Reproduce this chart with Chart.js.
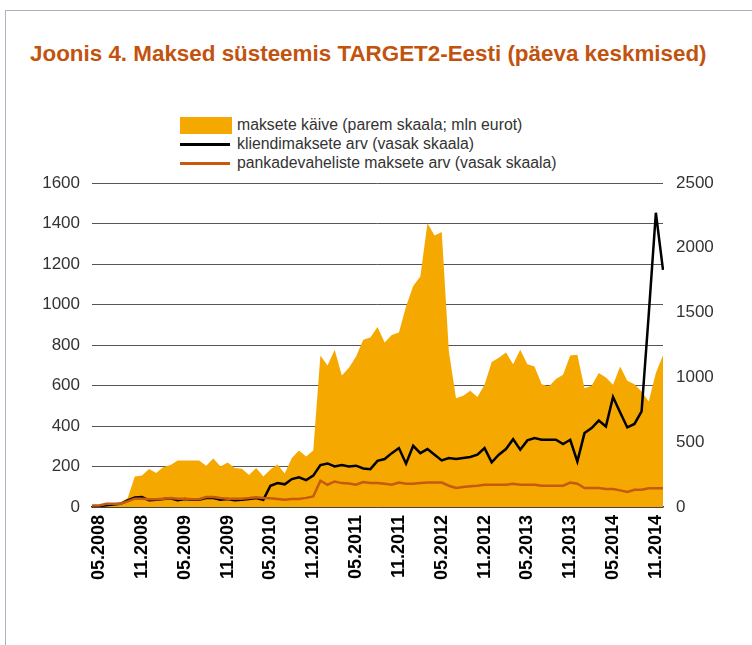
<!DOCTYPE html>
<html lang="et">
<head>
    <meta charset="UTF-8">
    <title>Joonis 4. Maksed süsteemis TARGET2-Eesti</title>
    <script src="https://cdn.jsdelivr.net/npm/chart.js@4"></script>
    <style>
        html, body { margin: 0; padding: 0; background: #fff; }
        body { width: 752px; height: 645px; position: relative; overflow: hidden;
               font-family: "Liberation Sans", Arial, sans-serif; }
        .frame { position: absolute; left: 5px; top: 10px; width: 760px; height: 700px;
                 border-top: 1px solid #aab4c0; border-left: 1px solid #aab4c0; }
        h2 { position: absolute; left: 30px; top: 41px; margin: 0; font-size: 22.4px;
             font-weight: bold; color: #c2530f; white-space: nowrap; }
        .legend { position: absolute; left: 180px; top: 115px; font-size: 15.8px; color: #333; }
        .legend div { position: relative; height: 19px; line-height: 19px; padding-left: 57px; white-space: nowrap; }
        .legend span { position: absolute; left: 0; }
        .box { top: 2px; width: 52px; height: 17px; background: #f5a800; }
        .line { top: 9px; width: 50px; height: 3px; }
        #chart { position: absolute; left: 0; top: 0; }
    </style>
</head>
<body>
    <div class="frame"></div>
    <h2>Joonis 4. Maksed süsteemis TARGET2-Eesti (päeva keskmised)</h2>

    <!-- legend -->
    <div class="legend">
        <div><span class="box"></span>maksete käive (parem skaala; mln eurot)</div>
        <div><span class="line" style="background:#000"></span>kliendimaksete arv (vasak skaala)</div>
        <div><span class="line" style="background:#c55a11"></span>pankadevaheliste maksete arv (vasak skaala)</div>
    </div>

    <canvas id="chart" width="752" height="645"></canvas>

    <script type=text/javascript>
        // monthly data, 04.2008 - 12.2014
        var months = [
            '04.2008','05.2008','06.2008','07.2008','08.2008','09.2008','10.2008','11.2008','12.2008',
            '01.2009','02.2009','03.2009','04.2009','05.2009','06.2009','07.2009','08.2009','09.2009','10.2009','11.2009','12.2009',
            '01.2010','02.2010','03.2010','04.2010','05.2010','06.2010','07.2010','08.2010','09.2010','10.2010','11.2010','12.2010',
            '01.2011','02.2011','03.2011','04.2011','05.2011','06.2011','07.2011','08.2011','09.2011','10.2011','11.2011','12.2011',
            '01.2012','02.2012','03.2012','04.2012','05.2012','06.2012','07.2012','08.2012','09.2012','10.2012','11.2012','12.2012',
            '01.2013','02.2013','03.2013','04.2013','05.2013','06.2013','07.2013','08.2013','09.2013','10.2013','11.2013','12.2013',
            '01.2014','02.2014','03.2014','04.2014','05.2014','06.2014','07.2014','08.2014','09.2014','10.2014','11.2014','12.2014'
        ];
        // labels shown on the x axis
        var shownLabels = ['05.2008','11.2008','05.2009','11.2009','05.2010','11.2010','05.2011',
                           '11.2011','05.2012','11.2012','05.2013','11.2013','05.2014','11.2014'];

        // maksete käive, mln eurot (right axis)
        var turnover = [
            10, 15, 18, 20, 35, 70, 236, 244, 293, 262, 308, 324, 359, 359, 359, 359, 318, 375, 313, 344,
            300, 295, 247, 300, 236, 290, 328, 258, 378, 436, 390, 436, 1169, 1092, 1213, 1015, 1074, 1161, 1290, 1307,
            1388, 1269, 1328, 1346, 1547, 1706, 1778, 2189, 2094, 2122, 1200, 840, 858, 897, 848, 943, 1118, 1152, 1192, 1102,
            1213, 1102, 1084, 948, 930, 987, 1020, 1169, 1174, 917, 935, 1033, 999, 943, 1084, 974, 948, 891, 814, 1033,
            1170
        ];
        // kliendimaksete arv (left axis)
        var clientPayments = [
            3, 5, 8, 12, 16, 33, 47, 49, 33, 36, 39, 43, 33, 39, 36, 36, 44, 44, 36, 39,
            33, 36, 39, 44, 36, 105, 118, 112, 138, 147, 133, 155, 207, 215, 200, 207, 200, 204, 190, 187,
            228, 237, 266, 291, 214, 302, 266, 286, 258, 230, 242, 237, 242, 247, 258, 291, 221, 258, 286, 335,
            283, 329, 340, 332, 332, 332, 311, 332, 225, 365, 390, 427, 398, 543, 467, 393, 410, 472, 950, 1453,
            1171
        ];
        // pankadevaheliste maksete arv (left axis)
        var interbankPayments = [
            8, 8, 16, 16, 16, 28, 41, 41, 38, 38, 41, 44, 41, 41, 38, 38, 49, 49, 44, 41,
            41, 41, 44, 48, 44, 43, 40, 36, 39, 40, 45, 52, 130, 110, 126, 118, 116, 110, 123, 118,
            118, 115, 110, 121, 115, 115, 118, 121, 121, 121, 105, 94, 99, 102, 105, 110, 110, 110, 110, 115,
            110, 110, 110, 105, 105, 105, 105, 121, 115, 94, 94, 94, 89, 89, 82, 74, 85, 85, 92, 92,
            92
        ];

        var font = "'Liberation Sans', Arial, sans-serif";
        var ctx = document.getElementById('chart').getContext('2d');
        var chart = new Chart(ctx, {
            type: 'line',
            data: {
                labels: months,
                datasets: [
                    {
                        label: 'maksete käive',
                        data: turnover,
                        yAxisID: 'y1',
                        fill: 'origin',
                        backgroundColor: '#f5a800',
                        borderWidth: 0,
                        pointRadius: 0,
                        order: 3
                    },
                    {
                        label: 'kliendimaksete arv',
                        data: clientPayments,
                        yAxisID: 'y',
                        borderColor: '#000',
                        borderWidth: 2.5,
                        pointRadius: 0,
                        order: 2
                    },
                    {
                        label: 'pankadevaheliste maksete arv',
                        data: interbankPayments,
                        yAxisID: 'y',
                        borderColor: '#c55a11',
                        borderWidth: 2.5,
                        pointRadius: 0,
                        order: 1
                    }
                ]
            },
            options: {
                responsive: false,
                animation: false,
                lineTension: 0,
                layout: { padding: { top: 183, left: 0, right: 0, bottom: 0 } },
                plugins: { legend: { display: false }, tooltip: { enabled: false } },
                scales: {
                    x: {
                        offset: false,
                        grid: { display: false, drawTicks: false },
                        border: { display: true, color: '#333', width: 1.5 },
                        ticks: {
                            autoSkip: false,
                            maxRotation: 90,
                            minRotation: 90,
                            padding: 8,
                            color: '#000',
                            font: { family: font, size: 18, weight: 'bold' },
                            callback: function(value, index) {
                                var m = months[index];
                                return shownLabels.indexOf(m) >= 0 ? m : '';
                            }
                        },
                        afterFit: function(scale) { scale.height = 138; }
                    },
                    y: {
                        position: 'left',
                        min: 0,
                        max: 1600,
                        grid: { color: '#555', lineWidth: 1, drawTicks: false },
                        border: { display: false },
                        ticks: {
                            stepSize: 200, padding: 12, color: '#333',
                            font: { family: font, size: 17 },
                            callback: function(v) { return String(v); }
                        },
                        afterFit: function(scale) { scale.width = 92; }
                    },
                    y1: {
                        position: 'right',
                        min: 0,
                        max: 2500,
                        grid: { display: false, drawTicks: false },
                        border: { display: false },
                        ticks: {
                            stepSize: 500, padding: 13, color: '#333',
                            font: { family: font, size: 17 },
                            callback: function(v) { return String(v); }
                        },
                        afterFit: function(scale) { scale.width = 89; }
                    }
                }
            }
        });
    </script>
</body>
</html>
